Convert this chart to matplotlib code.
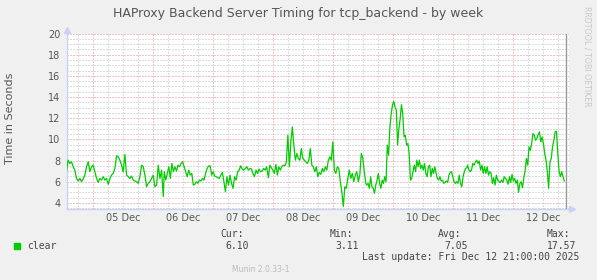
import matplotlib
matplotlib.use("Agg")
import matplotlib.pyplot as plt
import matplotlib.dates as mdates
from matplotlib.ticker import MultipleLocator, NullFormatter, FuncFormatter
from matplotlib.patches import Rectangle
import pandas as pd

W, H = 597, 280

TITLE = "HAProxy Backend Server Timing for tcp_backend - by week"
YLABEL = "Time in Seconds"
SERIES = "clear"
STAT_NAMES = ["Cur:", "Min:", "Avg:", "Max:"]
STAT_VALUES = ["6.10", "3.11", "7.05", "17.57"]
LAST_UPDATE = "2025-12-12 21:00:00"

# readings, one list per stretch of the week
seg_a = [7.01, 8.04, 7.73, 7.89, 7.42, 7.10, 6.32, 6.07, 6.32, 6.01, 6.26, 6.63,
         7.42, 7.89, 6.95, 7.42, 7.57, 6.95, 6.32, 5.94, 6.32, 6.16, 6.48, 6.16,
         6.32, 5.76, 6.32, 6.63, 6.79, 7.26, 8.45, 8.36, 8.04, 7.57, 6.95, 8.58,
         6.63, 6.48, 6.32, 6.54, 6.16, 6.07, 6.01, 5.85, 6.48, 7.57, 7.42, 6.63,
         5.53, 5.85, 6.01, 6.32, 6.63, 5.53, 5.69, 7.57, 6.32, 7.10, 4.60]
seg_b = [6.95, 6.16, 6.79, 7.42, 6.32, 7.73, 6.95, 7.42, 7.01, 7.57, 7.42, 7.73,
         7.89, 7.42, 6.95, 6.48, 7.10, 6.63, 6.79, 5.69, 5.76, 6.01, 5.85, 6.16,
         6.07, 6.32, 6.16, 6.79, 7.26, 7.48, 7.51, 6.63, 6.95, 6.54, 6.48, 6.38,
         6.32, 6.63, 6.88, 6.01, 5.07, 6.48, 5.69, 6.63, 5.85, 5.38, 6.48, 6.16,
         6.95, 7.10, 7.51, 7.20, 7.10, 7.26, 7.42, 7.10, 7.26, 7.20, 6.79, 6.48,
         7.10, 6.79, 7.20, 6.95, 7.01, 7.26, 7.10, 7.42]
seg_c = [6.38, 7.57, 7.32, 7.10, 6.79, 7.64, 6.63, 7.42, 7.10, 7.42, 7.57, 7.51,
         7.89, 10.39, 7.42, 9.77, 11.18, 9.46, 8.04, 8.67, 8.20, 8.04, 9.14, 8.20,
         8.04, 7.89, 7.73, 8.04, 9.14, 7.57, 7.42, 6.95, 7.42, 6.48, 6.88, 6.70,
         7.26, 6.95, 7.42, 7.10, 8.04, 8.36, 8.04, 9.77, 7.10, 6.79, 7.42, 7.26,
         6.01, 5.07, 3.66, 5.53, 5.38, 6.32, 7.10, 6.32, 6.79, 6.01, 6.63, 6.95,
         6.01, 6.63, 8.67, 8.20, 6.95, 5.85]
seg_d = [5.69, 5.85, 5.38, 6.48, 5.53, 5.38, 4.91, 5.69, 6.16, 6.79, 5.85, 5.38,
         6.16, 5.85, 6.48, 6.01, 9.46, 8.52, 11.18, 12.43, 13.22, 13.59, 13.06, 12.75,
         9.46, 11.02, 11.96, 13.28, 12.43, 10.24, 10.39, 9.46, 9.61, 8.67, 6.16, 6.32,
         6.95, 7.57, 6.95, 8.04, 7.42, 8.04, 7.26, 7.57, 7.10, 7.73, 6.79, 6.48,
         7.42, 7.57, 6.48, 7.26, 6.79, 7.42, 6.79, 6.32, 6.16, 6.48, 6.07, 6.16,
         5.85, 5.94, 6.07, 5.94, 6.63, 6.88, 6.95, 6.48, 6.01, 5.85, 6.01, 5.85,
         6.63, 5.85, 5.53, 6.48, 6.95, 7.26, 7.32]
seg_e = [7.57, 7.10, 6.95, 7.10, 7.73, 7.57, 7.89, 8.04, 7.73, 7.95, 7.10, 7.57,
         6.79, 7.42, 6.79, 7.42, 6.63, 6.95, 6.79, 5.85, 6.38, 5.69, 6.63, 6.16,
         6.01, 5.94, 6.16, 5.94, 6.48, 6.32, 6.16, 5.76, 6.48, 5.94, 6.70, 6.07,
         6.32, 5.85, 6.16, 5.00, 5.85, 6.01, 5.44, 6.38, 7.01, 8.20, 7.57, 9.30,
         8.98, 9.61, 10.55, 10.39, 9.92, 10.08, 10.46, 10.71, 9.77, 10.24, 9.61, 8.67,
         8.04, 6.95, 5.38, 7.89, 8.20, 9.30, 9.92, 10.71, 10.77, 8.67, 6.95, 6.48,
         6.95, 6.48, 6.07]

segments = [
    ("2025-12-04 13:29", "2025-12-06 04:09", seg_a),
    ("2025-12-06 04:33", "2025-12-07 21:29", seg_b),
    ("2025-12-07 22:09", "2025-12-09 13:05", seg_c),
    ("2025-12-09 13:29", "2025-12-11 05:29", seg_d),
    ("2025-12-11 05:45", "2025-12-12 20:25", seg_e),
]

times, values = [], []
for start, end, vals in segments:
    times.extend(pd.date_range(start, end, periods=len(vals)))
    values.extend(vals)

x_start = pd.Timestamp("2025-12-04 13:29")
x_end = pd.Timestamp("2025-12-12 22:17")

TXT = "#555555"
AXIS = "#C9D1F6"
MGRID = "#E88A8A"
GRID = "#BDBDBD"


def fx(px):
    return px / W


def fy(py):
    return 1 - py / H


fig = plt.figure(figsize=(W / 100, H / 100), dpi=100, facecolor="#F0F0F0")
ax_l, ax_b, ax_r, ax_t = 66.5, 209, 569, 33.5
ax = fig.add_axes([fx(ax_l), fy(ax_b), fx(ax_r) - fx(ax_l), fy(ax_t) - fy(ax_b)])
ax.set_facecolor("white")

ax.plot(times, values, color="#00CC00", linewidth=0.9, zorder=3)
ax.axvline(pd.Timestamp(LAST_UPDATE), color="#999999", linewidth=1.0, zorder=4)

ax.set_xlim(x_start, x_end)
ax.set_ylim(3.43, 20)

ax.yaxis.set_major_locator(MultipleLocator(2))
ax.yaxis.set_minor_locator(MultipleLocator(0.5))
ax.xaxis.set_major_locator(mdates.HourLocator(byhour=[0]))
ax.xaxis.set_minor_locator(mdates.HourLocator(byhour=[6, 12, 18]))
ax.xaxis.set_major_formatter(NullFormatter())
ax.xaxis.set_minor_formatter(FuncFormatter(
    lambda v, pos: mdates.num2date(v).strftime("%d %b") if mdates.num2date(v).hour == 12 else ""))

# dotted grid: 1 px on, 2 px off
dots = (0, (1, 2))
ax.grid(True, which="minor", color=GRID, linewidth=0.72, linestyle=dots, zorder=1)
ax.grid(True, which="major", color=MGRID, linewidth=0.72, linestyle=dots, zorder=2)
ax.set_axisbelow(True)

ax.tick_params(which="both", length=0, labelsize=7, labelcolor=TXT)
ax.tick_params(axis="y", pad=4.5)
ax.tick_params(axis="x", which="minor", pad=3)

for side in ["top", "right"]:
    ax.spines[side].set_visible(False)
for side in ["left", "bottom"]:
    ax.spines[side].set_color(AXIS)
    ax.spines[side].set_linewidth(1.0)

# axis arrows like rrdtool, a few pixels past the plot edges
h_ax, w_ax = ax_b - ax_t, ax_r - ax_l
ax.plot([0, 0], [1.0, 1 + 4 / h_ax], color=AXIS, linewidth=1.0, transform=ax.transAxes,
        clip_on=False)
ax.plot([1.0, 1 + 3 / w_ax], [0, 0], color=AXIS, linewidth=1.0, transform=ax.transAxes,
        clip_on=False)
ax.plot([0], [1 + 4 / h_ax], marker="^", markersize=4, color=AXIS, transform=ax.transAxes,
        clip_on=False)
ax.plot([1 + 3 / w_ax], [0], marker=">", markersize=4, color=AXIS, transform=ax.transAxes,
        clip_on=False)

fig.text(fx(298.5), fy(17.3), TITLE, ha="center", va="baseline", fontsize=9, color=TXT)
fig.text(fx(10.5), fy(118), YLABEL, rotation=90, ha="center", va="center", fontsize=8, color=TXT)
fig.text(fx(587), fy(56), "RRDTOOL / TOBI OETIKER", rotation=270, ha="center", va="center",
         fontsize=5.7, color="#C8C8C8")

mono = dict(family="DejaVu Sans Mono", fontsize=7, color="#444444")
fig.add_artist(Rectangle((fx(14), fy(248.5)), 6 / W, 6 / H, transform=fig.transFigure,
                         color="#00CC00"))
fig.text(fx(27), fy(249.3), SERIES, ha="left", va="baseline", **mono)

name_x = [220, 330, 438, 547]
value_x = [225, 335, 444, 547]
for name, val, nx, vx in zip(STAT_NAMES, STAT_VALUES, name_x, value_x):
    fig.text(fx(nx), fy(237.3), name, ha="left", va="baseline", **mono)
    fig.text(fx(vx), fy(249.3), val, ha="left", va="baseline", **mono)

last = pd.Timestamp(LAST_UPDATE)
fig.text(fx(362), fy(260.3), "Last update: " + last.strftime("%a %b %d %H:%M:%S %Y"),
         ha="left", va="baseline", **mono)
fig.text(fx(261), fy(272.3), "Munin 2.0.33-1", ha="center", va="baseline", fontsize=5.5,
         color="#BBBBBB")

fig.savefig("out.png", dpi=100, facecolor=fig.get_facecolor())
